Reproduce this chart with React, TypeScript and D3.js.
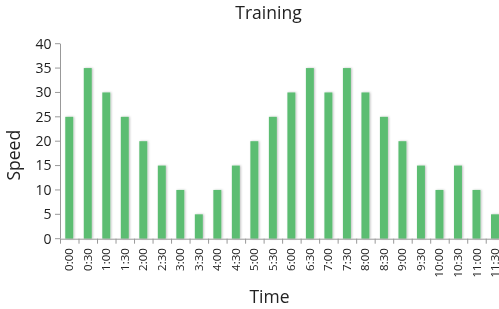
import React from 'react'
import * as d3 from 'd3'

const times = [
  '0:00', '0:30', '1:00', '1:30', '2:00', '2:30', '3:00', '3:30',
  '4:00', '4:30', '5:00', '5:30', '6:00', '6:30', '7:00', '7:30',
  '8:00', '8:30', '9:00', '9:30', '10:00', '10:30', '11:00', '11:30'
]
const speeds = [25, 35, 30, 25, 20, 15, 10, 5, 10, 15, 20, 25, 30, 35, 30, 35, 30, 25, 20, 15, 10, 15, 10, 5]
const yTicks = [0, 5, 10, 15, 20, 25, 30, 35, 40]

const W = 499
const H = 309
const FONT = '"Open Sans", Lato, sans-serif'

export default function App() {
  const x = d3.scaleBand<string>()
    .domain(times)
    .range([60, 60 + 24 * 18.51])
    .paddingInner(0.57)
    .paddingOuter(0.285)
  const y = d3.scaleLinear().domain([0, 40]).range([238.7, 43.7])
  const step = x.step()
  const half = (step - x.bandwidth()) / 2

  return (
    <div style={{ position: 'fixed', left: 0, top: 0 }}>
      <svg width={W} height={H} style={{ display: 'block', fontFamily: FONT }}>
        <defs>
          <filter id="shadow" x="-50%" y="-10%" width="200%" height="120%">
            <feDropShadow dx="1" dy="0" stdDeviation="0.8" floodColor="#000" floodOpacity="0.25" />
          </filter>
        </defs>
        <text x={268.5} y={19} textAnchor="middle" fontSize={17.5} fill="#222">Training</text>

        {/* bars */}
        <g filter="url(#shadow)">
          {times.map((t, i) => (
            <rect key={t} x={x(t)} y={y(speeds[i])} width={x.bandwidth()}
              height={y(0) - y(speeds[i])} fill="#5bbd72" />
          ))}
        </g>

        {/* y axis */}
        <line x1={60.5} x2={60.5} y1={y(40)} y2={y(0)} stroke="#999" />
        {yTicks.map(t => (
          <g key={t} transform={`translate(0,${y(t)})`}>
            <line x1={55} x2={60} stroke="#999" />
            <text x={51.5} dy="0.35em" textAnchor="end" fontSize={14} fill="#222">{t}</text>
          </g>
        ))}

        {/* x axis */}
        <line x1={60} x2={W} y1={y(0) + 0.5} y2={y(0) + 0.5} stroke="#999" />
        {times.map(t => {
          const cx = (x(t) as number) + x.bandwidth() / 2
          return (
            <g key={t}>
              <line x1={(x(t) as number) - half + 0.5} x2={(x(t) as number) - half + 0.5}
                y1={y(0)} y2={y(0) + 5} stroke="#999" />
              <text transform={`translate(${cx},${y(0) + 9.5}) rotate(-90)`} dy="0.35em"
                textAnchor="end" fontSize={11.5} fill="#222">{t}</text>
            </g>
          )
        })}

        <text x={269.5} y={303} textAnchor="middle" fontSize={17.5} fill="#222">Time</text>
        <text transform={`translate(19.5,${(y(0) + y(40)) / 2 + 14}) rotate(-90)`} textAnchor="middle"
          fontSize={17.5} fill="#222">Speed</text>
      </svg>
    </div>
  )
}
